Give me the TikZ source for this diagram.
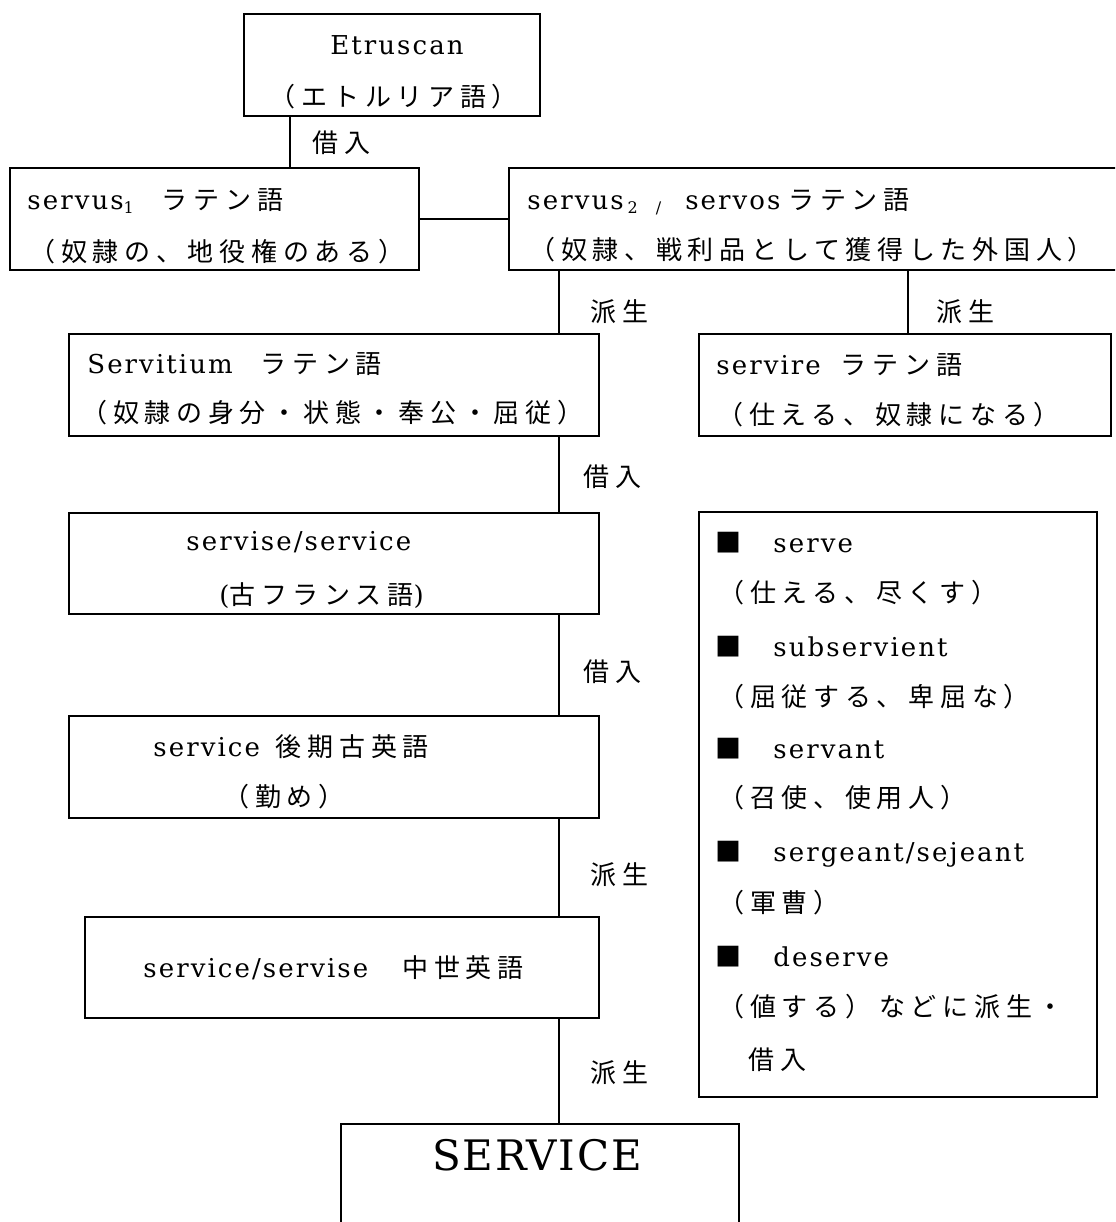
\documentclass[tikz,border=0pt]{standalone}
\usepackage{fontspec}
\setmainfont{DejaVu Serif}[LetterSpace=8]
\newfontfamily\jpfam{Noto Sans CJK JP}[LetterSpace=22]
\newfontfamily\bigfam{DejaVu Serif}[LetterSpace=4]
\usetikzlibrary{fit}
\newcommand\J[1]{{\jpfam\fontsize{13pt}{15pt}\selectfont #1}}
\newcommand\sub[1]{\raisebox{-2pt}{\fontsize{8pt}{8pt}\selectfont #1}}
\tikzset{
  box/.style={draw, line width=0.8pt, inner sep=0pt},
  conn/.style={draw, line width=0.8pt},
  txt/.style={inner sep=0pt, anchor=base west, font=\fontsize{13pt}{15pt}\selectfont},
  jtxt/.style={inner sep=0pt, anchor=base west, font=\jpfam\fontsize{13pt}{15pt}\selectfont},
  bigtxt/.style={inner sep=0pt, anchor=base west, font=\bigfam\fontsize{21pt}{24pt}\selectfont},
}
\begin{document}
\begin{tikzpicture}[x=0.5pt,y=-0.5pt]
\useasboundingbox (0,0) rectangle (1115,1222);
\clip (0,0) rectangle (1115,1222);
\fill[white] (0,0) rectangle (1115,1222);

% boxes
\node[box, fit={(244,14) (540,116)}] (etr) {};
\node[box, fit={(10,168) (419,270)}] (s1) {};
\node[box, fit={(509,168) (1135,270)}] (s2) {};
\node[box, fit={(69,334) (599,436)}] (sv) {};
\node[box, fit={(699,334) (1111,436)}] (sr) {};
\node[box, fit={(69,513) (599,614)}] (of) {};
\node[box, fit={(69,716) (599,818)}] (oe) {};
\node[box, fit={(85,917) (599,1018)}] (me) {};
\node[box, fit={(341,1124) (739,1240)}] (fin) {};
\node[box, fit={(699,512) (1097,1097)}] (lst) {};

% box texts
\node[txt, anchor=base] (etrA) at (397,54) {Etruscan};
\node[jtxt, anchor=base] (etrB) at (394,106) {（エトルリア語）};
\node[txt] (s1A) at (27,209) {servus\sub{1}\hspace{14pt}\J{ラテン語}};
\node[jtxt] (s1B) at (29,261) {（奴隷の、地役権のある）};
\node[txt] (s2A) at (527,209) {servus\hspace{2pt}\sub{2}\hspace{9pt}\sub{/}\hspace{12pt}servos\hspace{4pt}\J{ラテン語}};
\node[jtxt] (s2B) at (529,259) {（奴隷、戦利品として獲得した外国人）};
\node[txt] (svA) at (87,373) {Servitium\hspace{14pt}\J{ラテン語}};
\node[jtxt] (svB) at (81,422) {（奴隷の身分・状態・奉公・屈従）};
\node[txt] (srA) at (716,374) {servire\hspace{10pt}\J{ラテン語}};
\node[jtxt] (srB) at (717,424) {（仕える、奴隷になる）};
\node[txt] (ofA) at (186,550) {servise/service};
\node[txt] (ofB) at (219,604) {(\J{古フランス語})};
\node[txt] (oeA) at (153,756) {service\hspace{8pt}\J{後期古英語}};
\node[jtxt] (oeB) at (223,806) {（勤め）};
\node[txt] (meA) at (143,977) {service/servise\hspace{17pt}\J{中世英語}};
\node[bigtxt] (finA) at (432,1170) {SERVICE};

% connector labels
\node[jtxt] (la) at (312,152) {借入};
\node[jtxt] (lb) at (590,321) {派生};
\node[jtxt] (lc) at (936,321) {派生};
\node[jtxt] (ld) at (583,486) {借入};
\node[jtxt] (le) at (583,681) {借入};
\node[jtxt] (lf) at (590,884) {派生};
\node[jtxt] (lg) at (590,1082) {派生};

% list
\node[jtxt] (b1) at (715,552) {■};
\node[txt] (w1) at (773,552) {serve};
\node[jtxt] (g1) at (718,602) {（仕える、尽くす）};
\node[jtxt] (b2) at (715,656) {■};
\node[txt] (w2) at (773,656) {subservient};
\node[jtxt] (g2) at (718,706) {（屈従する、卑屈な）};
\node[jtxt] (b3) at (715,758) {■};
\node[txt] (w3) at (773,758) {servant};
\node[jtxt] (g3) at (718,807) {（召使、使用人）};
\node[jtxt] (b4) at (715,861) {■};
\node[txt] (w4) at (773,861) {sergeant/sejeant};
\node[jtxt] (g4) at (718,912) {（軍曹）};
\node[jtxt] (b5) at (715,966) {■};
\node[txt] (w5) at (773,966) {deserve};
\node[jtxt] (g5) at (718,1016) {（値する）\hspace{4pt}などに派生・};
\node[jtxt] (g6) at (748,1069) {借入};

% connectors
\coordinate (xa) at (290,0);
\coordinate (xb) at (559,0);
\coordinate (xc) at (908,0);
\path[conn] (etr.south -| xa) -- (s1.north -| xa);
\path[conn] (s1.east) -- (s1.east -| s2.west);
\path[conn] (s2.south -| xb) -- (sv.north -| xb);
\path[conn] (s2.south -| xc) -- (sr.north -| xc);
\path[conn] (sv.south -| xb) -- (of.north -| xb);
\path[conn] (of.south -| xb) -- (oe.north -| xb);
\path[conn] (oe.south -| xb) -- (me.north -| xb);
\path[conn] (me.south -| xb) -- (fin.north -| xb);
\end{tikzpicture}
\end{document}
